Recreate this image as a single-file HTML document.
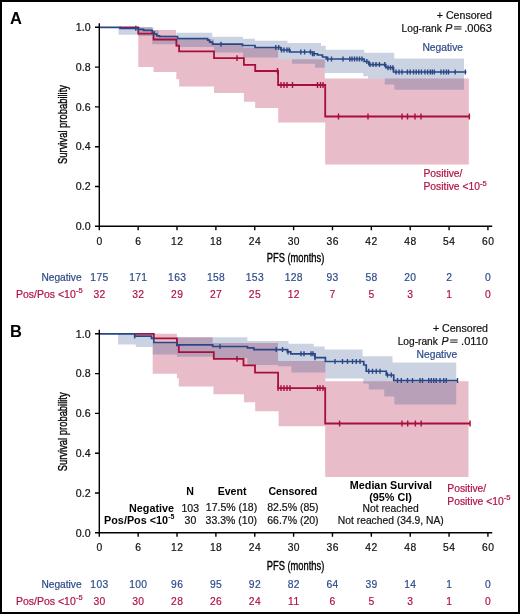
<!DOCTYPE html><html><head><meta charset="utf-8"><style>html,body{margin:0;padding:0;background:#fff;}body{width:520px;height:614px;overflow:hidden;}svg{display:block;will-change:transform;}text{font-family:"Liberation Sans",sans-serif;}</style></head><body>
<svg width="520" height="614" viewBox="0 0 520 614">
<rect x="0" y="0" width="520" height="614" fill="#fff"/>
<path d="M138.30 27.30 L152.20 27.30 L152.20 30.10 L176.00 30.10 L176.00 39.50 L214.00 39.50 L214.00 45.00 L243.00 45.00 L243.00 47.50 L278.10 47.50 L278.10 59.30 L324.80 59.30 L324.80 78.50 L468.80 78.50 L468.80 164.60 L325.20 164.60 L325.20 122.50 L278.20 122.50 L278.20 107.90 L255.20 107.90 L255.20 101.70 L243.90 101.70 L243.90 93.10 L214.00 93.10 L214.00 86.40 L179.20 86.40 L179.20 79.25 L176.30 79.25 L176.30 72.00 L153.50 72.00 L153.50 67.00 L138.30 67.00 Z" fill="#e8bcc8"/>
<path d="M118.50 27.30 L153.50 27.30 L153.50 30.30 L158.50 30.30 L158.50 35.50 L176.30 35.50 L176.30 32.80 L212.30 32.80 L212.30 36.80 L243.00 36.80 L243.00 38.75 L255.00 38.75 L255.00 40.80 L287.50 40.80 L287.50 43.00 L321.00 43.00 L321.00 45.70 L325.80 45.70 L325.80 49.80 L364.20 49.80 L364.20 52.80 L394.20 52.80 L394.20 58.50 L464.00 58.50 L464.00 89.80 L394.40 89.80 L394.40 84.50 L384.80 84.50 L384.80 78.60 L368.00 78.60 L368.00 76.30 L363.20 76.30 L363.20 73.00 L324.80 73.00 L324.80 67.80 L315.00 67.80 L315.00 63.80 L292.00 63.80 L292.00 59.30 L278.10 59.30 L278.10 57.50 L243.00 57.50 L243.00 52.50 L214.00 52.50 L214.00 47.00 L176.00 47.00 L176.00 44.20 L152.20 44.20 L152.20 36.10 L138.30 36.10 L138.30 34.80 L118.50 34.80 Z" fill="rgba(42,74,138,0.243)"/>
<path d="M119.50 27.30 H138.30 V33.70 H153.55 V39.50 H176.40 V45.55 H179.10 V51.30 H214.00 V58.10 H243.90 V64.80 H255.20 V71.00 H278.10 V85.00 H325.20 V116.50 H470.20" fill="none" stroke="#a80e3a" stroke-width="1.8"/>
<path d="M237.00 55.20v5.8 M277.50 68.10v5.8 M281.00 82.10v5.8 M284.00 82.10v5.8 M287.00 82.10v5.8 M292.50 82.10v5.8 M317.50 82.10v5.8 M320.50 82.10v5.8 M323.00 82.10v5.8 M338.50 113.60v5.8 M368.00 113.60v5.8 M402.00 113.60v5.8 M407.50 113.60v5.8 M415.00 113.60v5.8 M421.00 113.60v5.8 M469.30 113.60v5.8" stroke="#a80e3a" stroke-width="1.4"/>
<path d="M99.30 27.30 H120.00 V28.30 H138.50 V29.40 H143.50 V30.30 H152.20 V32.10 H154.20 V34.10 H156.90 V35.90 H159.60 V36.50 H177.50 V38.70 H207.70 V40.20 H209.60 V42.10 H212.50 V44.20 H242.50 V45.50 H255.00 V47.50 H281.00 V50.00 H290.00 V52.00 H312.50 V53.75 H317.50 V55.00 H322.50 V57.00 H326.25 V59.00 H364.20 V61.50 H368.80 V64.60 H385.80 V67.70 H393.50 V72.00 H466.50" fill="none" stroke="#294786" stroke-width="1.7"/>
<path d="M135.80 25.80v5 M221.00 41.70v5 M275.80 45.00v5 M278.70 45.00v5 M281.50 47.50v5 M284.00 47.50v5 M287.00 47.50v5 M289.20 47.50v5 M300.80 49.50v5 M304.60 49.50v5 M310.40 49.50v5 M312.50 51.25v5 M314.20 51.25v5 M327.70 56.50v5 M331.50 56.50v5 M343.00 56.50v5 M349.80 56.50v5 M352.00 56.50v5 M354.50 56.50v5 M357.00 56.50v5 M359.50 56.50v5 M362.00 56.50v5 M366.80 59.00v5 M370.00 62.10v5 M373.00 62.10v5 M376.00 62.10v5 M379.40 62.10v5 M384.80 62.10v5 M388.00 65.20v5 M390.50 65.20v5 M392.90 65.20v5 M396.00 69.50v5 M399.00 69.50v5 M402.00 69.50v5 M407.40 69.50v5 M410.10 69.50v5 M413.50 69.50v5 M416.20 69.50v5 M418.80 69.50v5 M421.50 69.50v5 M424.90 69.50v5 M427.60 69.50v5 M430.30 69.50v5 M432.30 69.50v5 M434.30 69.50v5 M441.00 69.50v5 M443.70 69.50v5 M446.40 69.50v5 M448.50 69.50v5 M455.20 69.50v5 M465.30 69.50v5" stroke="#294786" stroke-width="1.4"/>
<path d="M99.3 23.30 V226.30 H492.2" fill="none" stroke="#000" stroke-width="1.4"/>
<path d="M99.30 226.30v4 M138.16 226.30v4 M177.02 226.30v4 M215.89 226.30v4 M254.75 226.30v4 M293.61 226.30v4 M332.47 226.30v4 M371.33 226.30v4 M410.20 226.30v4 M449.06 226.30v4 M487.92 226.30v4 M95 226.30h4.3 M95 186.50h4.3 M95 146.70h4.3 M95 106.90h4.3 M95 67.10h4.3 M95 27.30h4.3" stroke="#000" stroke-width="1.4"/>
<text x="90.6" y="230.00" font-size="10.6" text-anchor="end" fill="#111" stroke="#111" stroke-width="0.2">0.0</text>
<text x="90.6" y="190.20" font-size="10.6" text-anchor="end" fill="#111" stroke="#111" stroke-width="0.2">0.2</text>
<text x="90.6" y="150.40" font-size="10.6" text-anchor="end" fill="#111" stroke="#111" stroke-width="0.2">0.4</text>
<text x="90.6" y="110.60" font-size="10.6" text-anchor="end" fill="#111" stroke="#111" stroke-width="0.2">0.6</text>
<text x="90.6" y="70.80" font-size="10.6" text-anchor="end" fill="#111" stroke="#111" stroke-width="0.2">0.8</text>
<text x="90.6" y="31.00" font-size="10.6" text-anchor="end" fill="#111" stroke="#111" stroke-width="0.2">1.0</text>
<text x="99.55" y="244.80" font-size="10.3" letter-spacing="0.5" text-anchor="middle" fill="#111" stroke="#111" stroke-width="0.2">0</text>
<text x="138.41" y="244.80" font-size="10.3" letter-spacing="0.5" text-anchor="middle" fill="#111" stroke="#111" stroke-width="0.2">6</text>
<text x="177.27" y="244.80" font-size="10.3" letter-spacing="0.5" text-anchor="middle" fill="#111" stroke="#111" stroke-width="0.2">12</text>
<text x="216.14" y="244.80" font-size="10.3" letter-spacing="0.5" text-anchor="middle" fill="#111" stroke="#111" stroke-width="0.2">18</text>
<text x="255.00" y="244.80" font-size="10.3" letter-spacing="0.5" text-anchor="middle" fill="#111" stroke="#111" stroke-width="0.2">24</text>
<text x="293.86" y="244.80" font-size="10.3" letter-spacing="0.5" text-anchor="middle" fill="#111" stroke="#111" stroke-width="0.2">30</text>
<text x="332.72" y="244.80" font-size="10.3" letter-spacing="0.5" text-anchor="middle" fill="#111" stroke="#111" stroke-width="0.2">36</text>
<text x="371.58" y="244.80" font-size="10.3" letter-spacing="0.5" text-anchor="middle" fill="#111" stroke="#111" stroke-width="0.2">42</text>
<text x="410.45" y="244.80" font-size="10.3" letter-spacing="0.5" text-anchor="middle" fill="#111" stroke="#111" stroke-width="0.2">48</text>
<text x="449.31" y="244.80" font-size="10.3" letter-spacing="0.5" text-anchor="middle" fill="#111" stroke="#111" stroke-width="0.2">54</text>
<text x="488.17" y="244.80" font-size="10.3" letter-spacing="0.5" text-anchor="middle" fill="#111" stroke="#111" stroke-width="0.2">60</text>
<text x="295.5" y="262.10" font-size="12" text-anchor="middle" textLength="57.5" lengthAdjust="spacingAndGlyphs" fill="#000" stroke="#000" stroke-width="0.35">PFS (months)</text>
<text transform="translate(67.2 124.50) rotate(-90)" font-size="13.2" text-anchor="middle" textLength="79" lengthAdjust="spacingAndGlyphs" fill="#000" stroke="#000" stroke-width="0.35">Survival probability</text>
<text x="10" y="24.20" font-size="16.5" font-weight="bold" fill="#000">A</text>
<text x="81.6" y="280.90" font-size="10.2" text-anchor="end" fill="#2c4a88" stroke="#2c4a88" stroke-width="0.2">Negative</text>
<text x="75.8" y="297.70" font-size="10.5" text-anchor="end" fill="#b01242" stroke="#b01242" stroke-width="0.2">Pos/Pos &lt;10</text>
<text x="76" y="292.80" font-size="7.5" fill="#b01242" stroke="#b01242" stroke-width="0.2">-5</text>
<text x="99.47" y="280.80" font-size="10.3" letter-spacing="0.35" text-anchor="middle" fill="#2c4a88" stroke="#2c4a88" stroke-width="0.18">175</text>
<text x="99.47" y="297.60" font-size="10.3" letter-spacing="0.35" text-anchor="middle" fill="#b01242" stroke="#b01242" stroke-width="0.18">32</text>
<text x="138.33" y="280.80" font-size="10.3" letter-spacing="0.35" text-anchor="middle" fill="#2c4a88" stroke="#2c4a88" stroke-width="0.18">171</text>
<text x="138.33" y="297.60" font-size="10.3" letter-spacing="0.35" text-anchor="middle" fill="#b01242" stroke="#b01242" stroke-width="0.18">32</text>
<text x="177.19" y="280.80" font-size="10.3" letter-spacing="0.35" text-anchor="middle" fill="#2c4a88" stroke="#2c4a88" stroke-width="0.18">163</text>
<text x="177.19" y="297.60" font-size="10.3" letter-spacing="0.35" text-anchor="middle" fill="#b01242" stroke="#b01242" stroke-width="0.18">29</text>
<text x="216.06" y="280.80" font-size="10.3" letter-spacing="0.35" text-anchor="middle" fill="#2c4a88" stroke="#2c4a88" stroke-width="0.18">158</text>
<text x="216.06" y="297.60" font-size="10.3" letter-spacing="0.35" text-anchor="middle" fill="#b01242" stroke="#b01242" stroke-width="0.18">27</text>
<text x="254.92" y="280.80" font-size="10.3" letter-spacing="0.35" text-anchor="middle" fill="#2c4a88" stroke="#2c4a88" stroke-width="0.18">153</text>
<text x="254.92" y="297.60" font-size="10.3" letter-spacing="0.35" text-anchor="middle" fill="#b01242" stroke="#b01242" stroke-width="0.18">25</text>
<text x="293.78" y="280.80" font-size="10.3" letter-spacing="0.35" text-anchor="middle" fill="#2c4a88" stroke="#2c4a88" stroke-width="0.18">128</text>
<text x="293.78" y="297.60" font-size="10.3" letter-spacing="0.35" text-anchor="middle" fill="#b01242" stroke="#b01242" stroke-width="0.18">12</text>
<text x="332.64" y="280.80" font-size="10.3" letter-spacing="0.35" text-anchor="middle" fill="#2c4a88" stroke="#2c4a88" stroke-width="0.18">93</text>
<text x="332.64" y="297.60" font-size="10.3" letter-spacing="0.35" text-anchor="middle" fill="#b01242" stroke="#b01242" stroke-width="0.18">7</text>
<text x="371.50" y="280.80" font-size="10.3" letter-spacing="0.35" text-anchor="middle" fill="#2c4a88" stroke="#2c4a88" stroke-width="0.18">58</text>
<text x="371.50" y="297.60" font-size="10.3" letter-spacing="0.35" text-anchor="middle" fill="#b01242" stroke="#b01242" stroke-width="0.18">5</text>
<text x="410.37" y="280.80" font-size="10.3" letter-spacing="0.35" text-anchor="middle" fill="#2c4a88" stroke="#2c4a88" stroke-width="0.18">20</text>
<text x="410.37" y="297.60" font-size="10.3" letter-spacing="0.35" text-anchor="middle" fill="#b01242" stroke="#b01242" stroke-width="0.18">3</text>
<text x="449.23" y="280.80" font-size="10.3" letter-spacing="0.35" text-anchor="middle" fill="#2c4a88" stroke="#2c4a88" stroke-width="0.18">2</text>
<text x="449.23" y="297.60" font-size="10.3" letter-spacing="0.35" text-anchor="middle" fill="#b01242" stroke="#b01242" stroke-width="0.18">1</text>
<text x="488.09" y="280.80" font-size="10.3" letter-spacing="0.35" text-anchor="middle" fill="#2c4a88" stroke="#2c4a88" stroke-width="0.18">0</text>
<text x="488.09" y="297.60" font-size="10.3" letter-spacing="0.35" text-anchor="middle" fill="#b01242" stroke="#b01242" stroke-width="0.18">0</text>
<text x="491.90" y="18.90" font-size="10.6" text-anchor="end" fill="#111" stroke="#111" stroke-width="0.2">+ Censored</text>
<text x="441.80" y="31.60" font-size="10.2" text-anchor="end" fill="#111" stroke="#111" stroke-width="0.2">Log-rank</text>
<text x="445.30" y="31.60" font-size="10.6" font-style="italic" fill="#111" stroke="#111" stroke-width="0.2">P</text>
<path d="M454.10 26.80h7.4M454.10 29.00h7.4" stroke="#111" stroke-width="0.95"/>
<text x="491.90" y="31.60" font-size="11.1" text-anchor="end" fill="#111" stroke="#111" stroke-width="0.2">.0063</text>
<text x="422.40" y="51.20" font-size="10.3" fill="#2c4a88" stroke="#2c4a88" stroke-width="0.2">Negative</text>
<text x="423.50" y="177.30" font-size="10.3" fill="#b01242" stroke="#b01242" stroke-width="0.2">Positive/</text>
<text x="423.50" y="190.20" font-size="10.3" fill="#b01242" stroke="#b01242" stroke-width="0.2">Positive &lt;10<tspan font-size="7.5" dy="-4.6">-5</tspan></text>
<path d="M152.70 333.80 L176.90 333.80 L176.90 337.20 L212.70 337.20 L212.70 343.00 L278.00 343.00 L278.00 361.00 L325.40 361.00 L325.40 381.30 L468.50 381.30 L468.50 476.90 L325.20 476.90 L325.20 426.30 L278.60 426.30 L278.60 411.20 L255.20 411.20 L255.20 402.30 L243.90 402.30 L243.90 394.20 L213.50 394.20 L213.50 386.40 L178.80 386.40 L178.80 378.30 L176.90 378.30 L176.90 373.70 L152.70 373.70 Z" fill="#e8bcc8"/>
<path d="M118.00 333.80 L152.70 333.80 L152.70 342.50 L176.90 342.50 L176.90 337.20 L247.40 337.20 L247.40 341.10 L288.50 341.10 L288.50 343.80 L313.80 343.80 L313.80 346.60 L324.70 346.60 L324.70 349.60 L362.50 349.60 L362.50 356.25 L392.50 356.25 L392.50 362.50 L456.25 362.50 L456.25 404.40 L394.40 404.40 L394.40 396.40 L384.20 396.40 L384.20 389.60 L368.80 389.60 L368.80 383.50 L363.30 383.50 L363.30 378.50 L325.40 378.50 L325.40 372.50 L291.30 372.50 L291.30 366.20 L278.00 366.20 L278.00 365.00 L247.40 365.00 L247.40 358.00 L212.70 358.00 L212.70 356.80 L176.90 356.80 L176.90 354.50 L152.70 354.50 L152.70 346.90 L135.80 346.90 L135.80 344.60 L118.00 344.60 Z" fill="rgba(42,74,138,0.243)"/>
<path d="M135.00 333.80 H153.80 V338.40 H176.90 V345.30 H178.80 V352.20 H213.80 V358.80 H243.50 V365.30 H255.00 V372.70 H278.10 V388.20 H325.20 V423.50 H470.40" fill="none" stroke="#a80e3a" stroke-width="1.8"/>
<path d="M237.00 355.90v5.8 M278.10 385.30v5.8 M281.00 385.30v5.8 M284.00 385.30v5.8 M287.00 385.30v5.8 M290.00 385.30v5.8 M317.50 385.30v5.8 M320.00 385.30v5.8 M323.00 385.30v5.8 M339.60 420.60v5.8 M402.00 420.60v5.8 M407.70 420.60v5.8 M415.40 420.60v5.8 M421.20 420.60v5.8 M470.00 420.60v5.8" stroke="#a80e3a" stroke-width="1.4"/>
<path d="M99.30 333.80 H134.70 V336.10 H151.50 V338.40 H153.80 V342.50 H176.90 V344.80 H212.70 V346.50 H247.40 V347.80 H253.80 V349.60 H287.30 V351.90 H290.80 V353.80 H315.00 V357.70 H325.40 V361.50 H363.75 V365.00 H366.25 V371.25 H386.25 V375.00 H393.75 V380.50 H458.00" fill="none" stroke="#294786" stroke-width="1.7"/>
<path d="M134.70 333.60v5 M220.00 344.00v5 M276.20 347.10v5 M282.50 347.10v5 M288.00 349.40v5 M301.00 351.30v5 M304.00 351.30v5 M311.00 351.30v5 M313.00 351.30v5 M315.00 355.20v5 M335.00 359.00v5 M342.50 359.00v5 M347.50 359.00v5 M352.50 359.00v5 M356.25 359.00v5 M360.00 359.00v5 M368.75 368.75v5 M372.50 368.75v5 M376.25 368.75v5 M380.00 368.75v5 M387.50 372.50v5 M391.25 372.50v5 M397.50 378.00v5 M401.25 378.00v5 M407.50 378.00v5 M412.50 378.00v5 M420.00 378.00v5 M422.50 378.00v5 M428.75 378.00v5 M431.25 378.00v5 M433.75 378.00v5 M436.25 378.00v5 M440.00 378.00v5 M443.75 378.00v5 M446.25 378.00v5 M457.50 378.00v5" stroke="#294786" stroke-width="1.4"/>
<path d="M99.3 329.80 V532.80 H492.2" fill="none" stroke="#000" stroke-width="1.4"/>
<path d="M99.30 532.80v4 M138.16 532.80v4 M177.02 532.80v4 M215.89 532.80v4 M254.75 532.80v4 M293.61 532.80v4 M332.47 532.80v4 M371.33 532.80v4 M410.20 532.80v4 M449.06 532.80v4 M487.92 532.80v4 M95 532.80h4.3 M95 493.00h4.3 M95 453.20h4.3 M95 413.40h4.3 M95 373.60h4.3 M95 333.80h4.3" stroke="#000" stroke-width="1.4"/>
<text x="90.6" y="536.50" font-size="10.6" text-anchor="end" fill="#111" stroke="#111" stroke-width="0.2">0.0</text>
<text x="90.6" y="496.70" font-size="10.6" text-anchor="end" fill="#111" stroke="#111" stroke-width="0.2">0.2</text>
<text x="90.6" y="456.90" font-size="10.6" text-anchor="end" fill="#111" stroke="#111" stroke-width="0.2">0.4</text>
<text x="90.6" y="417.10" font-size="10.6" text-anchor="end" fill="#111" stroke="#111" stroke-width="0.2">0.6</text>
<text x="90.6" y="377.30" font-size="10.6" text-anchor="end" fill="#111" stroke="#111" stroke-width="0.2">0.8</text>
<text x="90.6" y="337.50" font-size="10.6" text-anchor="end" fill="#111" stroke="#111" stroke-width="0.2">1.0</text>
<text x="99.55" y="551.30" font-size="10.3" letter-spacing="0.5" text-anchor="middle" fill="#111" stroke="#111" stroke-width="0.2">0</text>
<text x="138.41" y="551.30" font-size="10.3" letter-spacing="0.5" text-anchor="middle" fill="#111" stroke="#111" stroke-width="0.2">6</text>
<text x="177.27" y="551.30" font-size="10.3" letter-spacing="0.5" text-anchor="middle" fill="#111" stroke="#111" stroke-width="0.2">12</text>
<text x="216.14" y="551.30" font-size="10.3" letter-spacing="0.5" text-anchor="middle" fill="#111" stroke="#111" stroke-width="0.2">18</text>
<text x="255.00" y="551.30" font-size="10.3" letter-spacing="0.5" text-anchor="middle" fill="#111" stroke="#111" stroke-width="0.2">24</text>
<text x="293.86" y="551.30" font-size="10.3" letter-spacing="0.5" text-anchor="middle" fill="#111" stroke="#111" stroke-width="0.2">30</text>
<text x="332.72" y="551.30" font-size="10.3" letter-spacing="0.5" text-anchor="middle" fill="#111" stroke="#111" stroke-width="0.2">36</text>
<text x="371.58" y="551.30" font-size="10.3" letter-spacing="0.5" text-anchor="middle" fill="#111" stroke="#111" stroke-width="0.2">42</text>
<text x="410.45" y="551.30" font-size="10.3" letter-spacing="0.5" text-anchor="middle" fill="#111" stroke="#111" stroke-width="0.2">48</text>
<text x="449.31" y="551.30" font-size="10.3" letter-spacing="0.5" text-anchor="middle" fill="#111" stroke="#111" stroke-width="0.2">54</text>
<text x="488.17" y="551.30" font-size="10.3" letter-spacing="0.5" text-anchor="middle" fill="#111" stroke="#111" stroke-width="0.2">60</text>
<text x="295.5" y="569.61" font-size="12" text-anchor="middle" textLength="57.5" lengthAdjust="spacingAndGlyphs" fill="#000" stroke="#000" stroke-width="0.35">PFS (months)</text>
<text transform="translate(67.2 431.80) rotate(-90)" font-size="13.2" text-anchor="middle" textLength="79" lengthAdjust="spacingAndGlyphs" fill="#000" stroke="#000" stroke-width="0.35">Survival probability</text>
<text x="10" y="337.44" font-size="16.5" font-weight="bold" fill="#000">B</text>
<text x="81.6" y="587.89" font-size="10.2" text-anchor="end" fill="#2c4a88" stroke="#2c4a88" stroke-width="0.2">Negative</text>
<text x="75.8" y="604.69" font-size="10.5" text-anchor="end" fill="#b01242" stroke="#b01242" stroke-width="0.2">Pos/Pos &lt;10</text>
<text x="76" y="599.79" font-size="7.5" fill="#b01242" stroke="#b01242" stroke-width="0.2">-5</text>
<text x="99.47" y="587.79" font-size="10.3" letter-spacing="0.35" text-anchor="middle" fill="#2c4a88" stroke="#2c4a88" stroke-width="0.18">103</text>
<text x="99.47" y="604.59" font-size="10.3" letter-spacing="0.35" text-anchor="middle" fill="#b01242" stroke="#b01242" stroke-width="0.18">30</text>
<text x="138.33" y="587.79" font-size="10.3" letter-spacing="0.35" text-anchor="middle" fill="#2c4a88" stroke="#2c4a88" stroke-width="0.18">100</text>
<text x="138.33" y="604.59" font-size="10.3" letter-spacing="0.35" text-anchor="middle" fill="#b01242" stroke="#b01242" stroke-width="0.18">30</text>
<text x="177.19" y="587.79" font-size="10.3" letter-spacing="0.35" text-anchor="middle" fill="#2c4a88" stroke="#2c4a88" stroke-width="0.18">96</text>
<text x="177.19" y="604.59" font-size="10.3" letter-spacing="0.35" text-anchor="middle" fill="#b01242" stroke="#b01242" stroke-width="0.18">28</text>
<text x="216.06" y="587.79" font-size="10.3" letter-spacing="0.35" text-anchor="middle" fill="#2c4a88" stroke="#2c4a88" stroke-width="0.18">95</text>
<text x="216.06" y="604.59" font-size="10.3" letter-spacing="0.35" text-anchor="middle" fill="#b01242" stroke="#b01242" stroke-width="0.18">26</text>
<text x="254.92" y="587.79" font-size="10.3" letter-spacing="0.35" text-anchor="middle" fill="#2c4a88" stroke="#2c4a88" stroke-width="0.18">92</text>
<text x="254.92" y="604.59" font-size="10.3" letter-spacing="0.35" text-anchor="middle" fill="#b01242" stroke="#b01242" stroke-width="0.18">24</text>
<text x="293.78" y="587.79" font-size="10.3" letter-spacing="0.35" text-anchor="middle" fill="#2c4a88" stroke="#2c4a88" stroke-width="0.18">82</text>
<text x="293.78" y="604.59" font-size="10.3" letter-spacing="0.35" text-anchor="middle" fill="#b01242" stroke="#b01242" stroke-width="0.18">11</text>
<text x="332.64" y="587.79" font-size="10.3" letter-spacing="0.35" text-anchor="middle" fill="#2c4a88" stroke="#2c4a88" stroke-width="0.18">64</text>
<text x="332.64" y="604.59" font-size="10.3" letter-spacing="0.35" text-anchor="middle" fill="#b01242" stroke="#b01242" stroke-width="0.18">6</text>
<text x="371.50" y="587.79" font-size="10.3" letter-spacing="0.35" text-anchor="middle" fill="#2c4a88" stroke="#2c4a88" stroke-width="0.18">39</text>
<text x="371.50" y="604.59" font-size="10.3" letter-spacing="0.35" text-anchor="middle" fill="#b01242" stroke="#b01242" stroke-width="0.18">5</text>
<text x="410.37" y="587.79" font-size="10.3" letter-spacing="0.35" text-anchor="middle" fill="#2c4a88" stroke="#2c4a88" stroke-width="0.18">14</text>
<text x="410.37" y="604.59" font-size="10.3" letter-spacing="0.35" text-anchor="middle" fill="#b01242" stroke="#b01242" stroke-width="0.18">3</text>
<text x="449.23" y="587.79" font-size="10.3" letter-spacing="0.35" text-anchor="middle" fill="#2c4a88" stroke="#2c4a88" stroke-width="0.18">1</text>
<text x="449.23" y="604.59" font-size="10.3" letter-spacing="0.35" text-anchor="middle" fill="#b01242" stroke="#b01242" stroke-width="0.18">1</text>
<text x="488.09" y="587.79" font-size="10.3" letter-spacing="0.35" text-anchor="middle" fill="#2c4a88" stroke="#2c4a88" stroke-width="0.18">0</text>
<text x="488.09" y="604.59" font-size="10.3" letter-spacing="0.35" text-anchor="middle" fill="#b01242" stroke="#b01242" stroke-width="0.18">0</text>
<text x="488.00" y="332.00" font-size="10.6" text-anchor="end" fill="#111" stroke="#111" stroke-width="0.2">+ Censored</text>
<text x="437.90" y="344.80" font-size="10.2" text-anchor="end" fill="#111" stroke="#111" stroke-width="0.2">Log-rank</text>
<text x="441.40" y="344.80" font-size="10.6" font-style="italic" fill="#111" stroke="#111" stroke-width="0.2">P</text>
<path d="M450.20 340.00h7.4M450.20 342.20h7.4" stroke="#111" stroke-width="0.95"/>
<text x="488.00" y="344.80" font-size="11.1" text-anchor="end" fill="#111" stroke="#111" stroke-width="0.2">.0110</text>
<text x="416.50" y="358.10" font-size="10.3" fill="#2c4a88" stroke="#2c4a88" stroke-width="0.2">Negative</text>
<text x="447.30" y="492.10" font-size="10.3" fill="#b01242" stroke="#b01242" stroke-width="0.2">Positive/</text>
<text x="447.30" y="504.50" font-size="10.3" fill="#b01242" stroke="#b01242" stroke-width="0.2">Positive &lt;10<tspan font-size="7.5" dy="-4.6">-5</tspan></text>
<text x="190.2" y="494.8" font-size="10.6" font-weight="bold" text-anchor="middle" fill="#000">N</text>
<text x="232.1" y="494.5" font-size="10.6" font-weight="bold" text-anchor="middle" fill="#000">Event</text>
<text x="292.9" y="494.5" font-size="10.6" font-weight="bold" text-anchor="middle" fill="#000">Censored</text>
<text x="390.9" y="488.5" font-size="10.8" font-weight="bold" text-anchor="middle" fill="#000">Median Survival</text>
<text x="390.5" y="500.5" font-size="10.8" font-weight="bold" text-anchor="middle" fill="#000">(95% CI)</text>
<text x="174" y="511.7" font-size="10.8" font-weight="bold" text-anchor="end" fill="#000">Negative</text>
<text x="168" y="523.8" font-size="10.8" font-weight="bold" text-anchor="end" fill="#000">Pos/Pos &lt;10</text>
<text x="168.2" y="518.5" font-size="7" font-weight="bold" fill="#000">-5</text>
<text x="190.3" y="511.6" font-size="10.5" text-anchor="middle" fill="#111" stroke="#111" stroke-width="0.2">103</text>
<text x="190.4" y="523.8" font-size="10.5" text-anchor="middle" fill="#111" stroke="#111" stroke-width="0.2">30</text>
<text x="231.5" y="511.4" font-size="10.5" text-anchor="middle" fill="#111" stroke="#111" stroke-width="0.2">17.5% (18)</text>
<text x="231.3" y="523.8" font-size="10.5" text-anchor="middle" fill="#111" stroke="#111" stroke-width="0.2">33.3% (10)</text>
<text x="292.9" y="511.4" font-size="10.5" text-anchor="middle" fill="#111" stroke="#111" stroke-width="0.2">82.5% (85)</text>
<text x="292.9" y="523.8" font-size="10.5" text-anchor="middle" fill="#111" stroke="#111" stroke-width="0.2">66.7% (20)</text>
<text x="390.6" y="511.5" font-size="10.3" text-anchor="middle" fill="#111" stroke="#111" stroke-width="0.2">Not reached</text>
<text x="390.8" y="524.2" font-size="10.3" text-anchor="middle" fill="#111" stroke="#111" stroke-width="0.2">Not reached (34.9, NA)</text>
<rect x="1" y="1" width="518" height="612" fill="none" stroke="#000" stroke-width="2"/>
</svg></body></html>
